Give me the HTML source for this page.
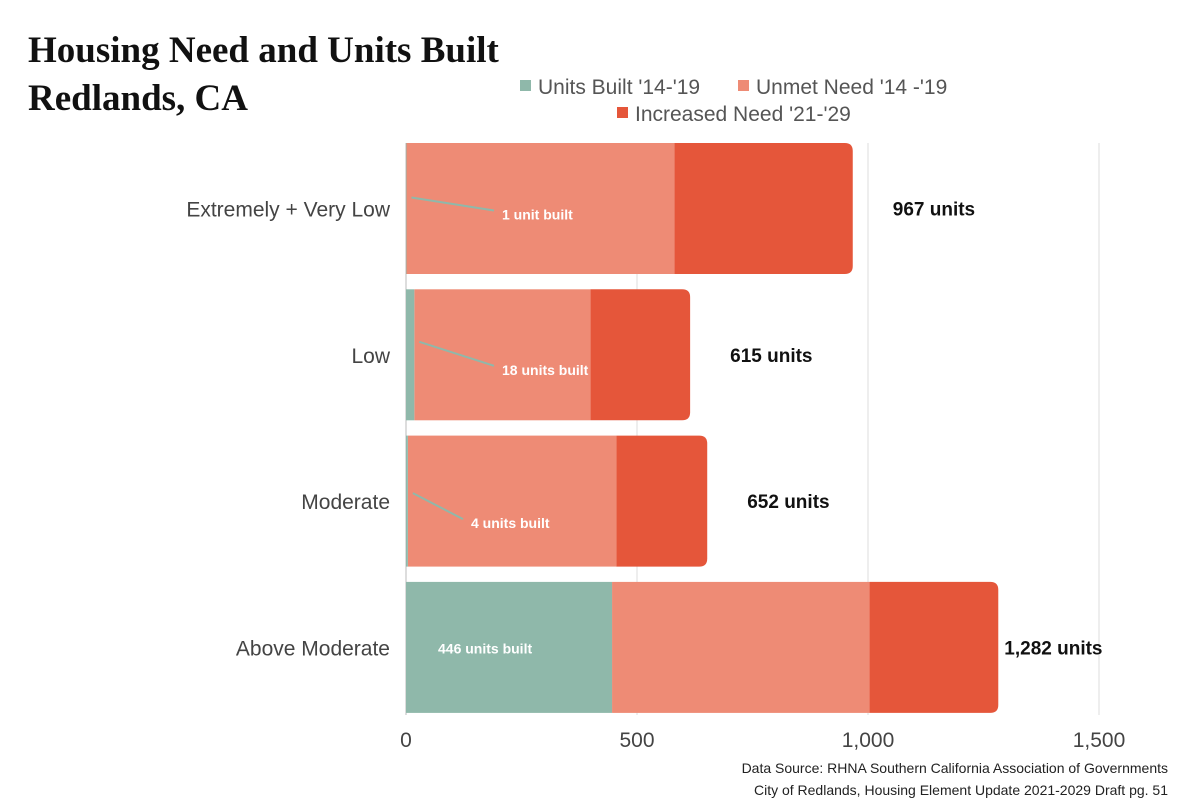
<!DOCTYPE html>
<html><head><meta charset="utf-8">
<style>
body{margin:0;background:#fff;width:1200px;height:800px;overflow:hidden;font-family:"Liberation Sans",sans-serif}
svg text{font-family:"Liberation Sans",sans-serif}
</style></head><body>
<svg id="chart" width="1200" height="800" xmlns="http://www.w3.org/2000/svg">
<text x="28" y="62" font-weight="bold" font-size="37" fill="#111" style="font-family:'Liberation Serif',serif">Housing Need and Units Built</text>
<text x="28" y="110" font-weight="bold" font-size="37" fill="#111" style="font-family:'Liberation Serif',serif">Redlands, CA</text>
<g font-size="21" fill="#555">
<rect x="520" y="80" width="11" height="11" fill="#8fb8aa"/>
<text x="538" y="94">Units Built '14-'19</text>
<rect x="738" y="80" width="11" height="11" fill="#ee8b75"/>
<text x="756" y="94">Unmet Need '14 -'19</text>
<rect x="617" y="107" width="11" height="11" fill="#e5563a"/>
<text x="635" y="121">Increased Need '21-'29</text>
</g>
<g id="grid"></g><g id="bars"></g><g id="labels"></g>
<text x="1168" y="773" text-anchor="end" font-size="14" fill="#222">Data Source: RHNA Southern California Association of Governments</text>
<text x="1168" y="795" text-anchor="end" font-size="14" fill="#222">City of Redlands, Housing Element Update 2021-2029 Draft pg. 51</text>
</svg>
<script>
const categories=["Extremely + Very Low","Low","Moderate","Above Moderate"];
const built=[1,18,4,446];
const unmet=[580,381,451,557];
const increased=[386,216,197,279];
const totals=["967 units","615 units","652 units","1,282 units"];
const builtLabels=["1 unit built","18 units built","4 units built","446 units built"];
const ticks=[0,500,1000,1500];
const tickLabels=["0","500","1,000","1,500"];
const NS="http://www.w3.org/2000/svg";
const x=v=>406+v*(693/1500);
const bandTop=i=>143+i*146.3, bandH=131;
function mk(t,a,p){const e=document.createElementNS(NS,t);for(const k in a)e.setAttribute(k,a[k]);p.appendChild(e);return e;}
const grid=document.getElementById('grid'),bars=document.getElementById('bars'),labels=document.getElementById('labels');
ticks.forEach((t,i)=>{
 const l=mk('line',{x1:x(t),x2:x(t),y1:143,y2:715,stroke:i==0?'#bbb':'#ddd','stroke-width':1},grid);
 
 
 const tx=mk('text',{x:x(t),y:747,'text-anchor':'middle','font-size':21,fill:'#444'},grid);
 tx.textContent=tickLabels[i];
 
 
});
categories.forEach((c,i)=>{
 const y=bandTop(i), tot=built[i]+unmet[i]+increased[i];
 const r=mk('path',{d:`M${x(built[i]+unmet[i])},${y}H${x(tot)-8}Q${x(tot)},${y} ${x(tot)},${y+8}V${y+bandH-8}Q${x(tot)},${y+bandH} ${x(tot)-8},${y+bandH}H${x(built[i]+unmet[i])}Z`,fill:'#e5563a'},bars);
 
 
 const u=mk('rect',{x:x(built[i]),y:y,width:x(built[i]+unmet[i])-x(built[i]),height:bandH,fill:'#ee8b75'},bars);
 
 
 const b=mk('rect',{x:x(0),y:y,width:x(built[i])-x(0),height:bandH,fill:'#8fb8aa'},bars);
 
 
 const cl=mk('text',{x:390,y:y+bandH/2+8,'text-anchor':'end','font-size':21,fill:'#444'},labels);
 cl.textContent=c;
 
 
 const tl=mk('text',{x:x(tot)+(i==3?6:40),y:y+bandH/2+7,'font-size':19,'font-weight':'bold',fill:'#111'},labels);
 tl.textContent=totals[i];
 
 
 const cy=y+bandH/2;
 let lx=i==3?438:[502,502,471][i], ly=i==3?cy+6:[cy+11,cy+20,cy+27][i];
 if(i<3){
  const ln=mk('line',{x1:x(built[i])+5,y1:[cy-11,cy-13,cy-8][i],x2:lx-8,y2:ly-9,stroke:'#8fb8aa','stroke-width':2},labels);
  
  
 }
 const al=mk('text',{x:lx,y:ly,'font-size':14,'font-weight':'bold',fill:'#fff'},labels);
 al.textContent=builtLabels[i];
 
 
});
</script>
</body></html>
